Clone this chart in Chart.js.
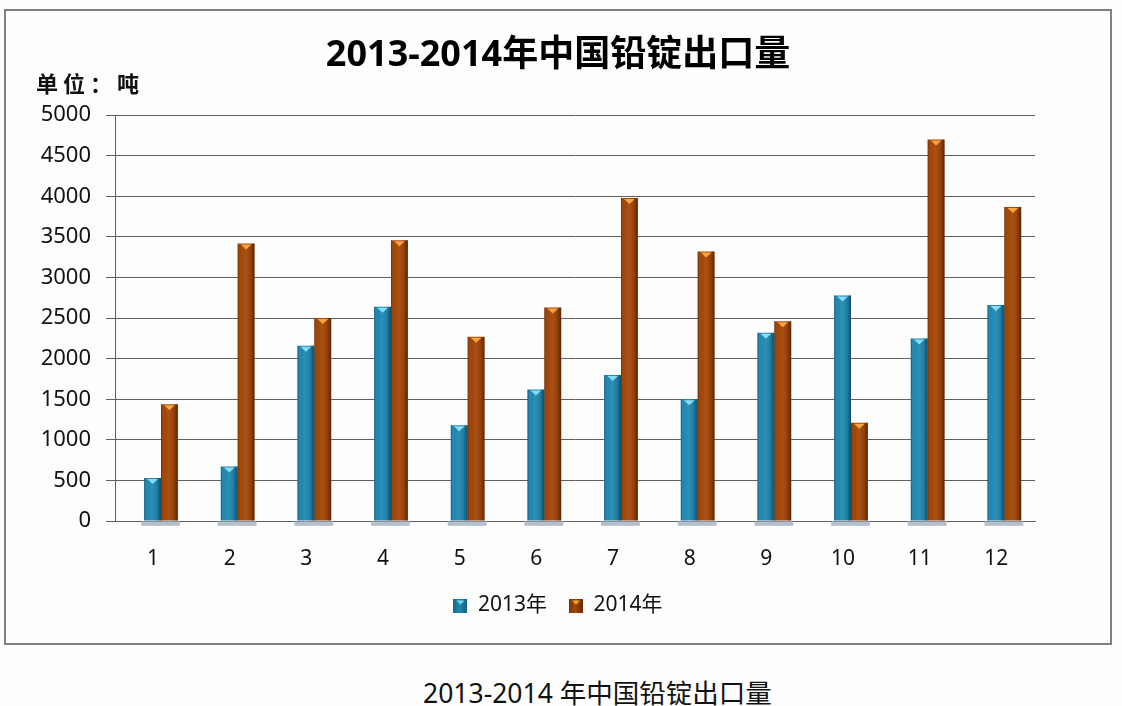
<!DOCTYPE html>
<html><head><meta charset="utf-8">
<script src="https://cdn.jsdelivr.net/npm/chart.js@4/dist/chart.umd.min.js"></script>
<style>
html,body{margin:0;padding:0;background:#fdfdfd;}
body{width:1122px;height:706px;position:relative;overflow:hidden;font-family:"Noto Sans","Noto Sans CJK SC",sans-serif;}
#box{position:absolute;left:4px;top:9px;width:1108px;height:636px;border:2px solid #7f7f7f;box-sizing:border-box;}
#wrap{position:absolute;left:0;top:0;width:1104px;height:632px;}
#unit{position:absolute;left:30px;top:60px;line-height:22px;font-size:22px;font-weight:bold;color:#111;letter-spacing:5px;font-family:"Noto Sans CJK SC",sans-serif;}
#caption{position:absolute;left:423px;top:680px;line-height:26px;font-size:26.5px;color:#111;white-space:nowrap;font-family:"Noto Sans","Noto Sans CJK SC",sans-serif;}
</style></head>
<body>
<div id="box"><div id="wrap"><canvas id="c"></canvas></div><div id="unit">单位：吨</div></div>
<div id="caption">2013-2014 年中国铅锭出口量</div>
<script>
const chartTitle = '2013-2014年中国铅锭出口量';
const months = ['1','2','3','4','5','6','7','8','9','10','11','12'];
const monthNums = [1,2,3,4,5,6,7,8,9,10,11,12];
const seriesNames = ['2013年','2014年'];
const exports2013 = [530, 670, 2160, 2640, 1180, 1620, 1800, 1500, 2320, 2780, 2250, 2660];
const exports2014 = [1440, 3420, 2500, 3460, 2270, 2630, 3980, 3320, 2460, 1210, 4700, 3870];
const yTicks = [0,500,1000,1500,2000,2500,3000,3500,4000,4500,5000];

const barColors = ['#2189b2','#a34709'];
const capColors = ['#86dcf9','#f9a53e'];

function makeIcon(i){
  const c=document.createElement('canvas'); c.width=14; c.height=14;
  const x=c.getContext('2d');
  const g=x.createLinearGradient(0,0,14,0);
  g.addColorStop(0, i? '#7a3306':'#17698a');
  g.addColorStop(0.4, barColors[i]);
  g.addColorStop(1, i? '#6a2b04':'#145e7b');
  x.fillStyle=g; x.fillRect(0,0,14,14);
  x.fillStyle=capColors[i];
  x.beginPath(); x.moveTo(3,2); x.lineTo(11,2); x.lineTo(7,6); x.closePath(); x.fill();
  return c;
}
const legendIcons=[makeIcon(0),makeIcon(1)];

const barStyle = {
  id:'barStyle',
  afterDatasetsDraw(chart){
    const ctx=chart.ctx;
    const m0=chart.getDatasetMeta(0), m1=chart.getDatasetMeta(1);
    ctx.save();
    m0.data.forEach((b0,i)=>{
      const b1=m1.data[i];
      const l=b0.x-b0.width/2-3, r=b1.x+b1.width/2+2;
      ctx.fillStyle='#b3c1d0'; ctx.fillRect(l,b0.base+1,r-l,3);
      ctx.fillStyle='#8c9aab'; ctx.fillRect(l,b0.base+4,r-l,1);
    });
    chart.data.datasets.forEach((ds,di)=>{
      chart.getDatasetMeta(di).data.forEach(bar=>{
        const w=bar.width, x0=bar.x-w/2, top=bar.y, h=bar.base-bar.y;
        const g=ctx.createLinearGradient(x0,0,x0+w,0);
        g.addColorStop(0,'rgba(0,0,0,0.35)');
        g.addColorStop(0.1,'rgba(0,0,0,0)');
        g.addColorStop(0.45,'rgba(255,255,255,0.06)');
        g.addColorStop(0.75,'rgba(0,0,0,0.08)');
        g.addColorStop(1,'rgba(0,0,0,0.45)');
        ctx.fillStyle=g; ctx.fillRect(x0,top,w,h);
        ctx.fillStyle=capColors[di];
        ctx.beginPath();
        ctx.moveTo(bar.x-w*0.32,top+1);
        ctx.lineTo(bar.x+w*0.32,top+1);
        ctx.lineTo(bar.x,top+6);
        ctx.closePath(); ctx.fill();
      });
    });
    ctx.restore();
  }
};

Chart.defaults.font.family='"Noto Sans","Noto Sans CJK SC",sans-serif';
Chart.defaults.color='#111';

new Chart(document.getElementById('c'),{
  type:'bar',
  data:{
    datasets:[
      {label:seriesNames[0],data:monthNums.map((m,i)=>({x:m,y:exports2013[i]})),backgroundColor:barColors[0]},
      {label:seriesNames[1],data:monthNums.map((m,i)=>({x:m,y:exports2014[i]})),backgroundColor:barColors[1]}
    ]
  },
  options:{
    responsive:true, maintainAspectRatio:false, animation:false,
    categoryPercentage:0.44, barPercentage:1.0,
    layout:{padding:{left:0,right:0,top:0,bottom:17}},
    scales:{
      x:{
        type:'linear', min:0.4, max:12.4, offset:false,
        afterBuildTicks:(s)=>{ s.ticks = monthNums.map(v=>({value:v})); },
        afterFit:(s)=>{ s.height=52; },
        ticks:{callback:(v)=>months[v-1], font:{size:21}, padding:17, labelOffset:-8, autoSkip:false, maxRotation:0},
        grid:{display:false, offset:false},
        border:{display:true, color:'#5f5f5f', width:1}
      },
      y:{
        min:0, max:5000,
        afterBuildTicks:(s)=>{ s.ticks = yTicks.map(v=>({value:v})); },
        afterFit:(s)=>{ s.width=109; },
        ticks:{font:{size:22}, padding:15, callback:(v)=>String(v)},
        grid:{color:'#5f5f5f', lineWidth:1, tickLength:9, drawTicks:true},
        border:{display:true, color:'#5f5f5f', width:1}
      },
      yR:{
        position:'right', display:true,
        afterFit:(s)=>{ s.width=75; },
        ticks:{display:false}, grid:{display:false}, border:{display:false}
      }
    },
    plugins:{
      title:{display:true, text:chartTitle, color:'#000',
        font:{size:36, weight:'bold', family:'"Noto Sans","Noto Sans CJK SC",sans-serif'},
        padding:{top:23,bottom:38}},
      legend:{position:'bottom',
        labels:{usePointStyle:true, boxWidth:14, boxHeight:14, padding:22, font:{size:21},
          generateLabels(chart){
            const items=Chart.defaults.plugins.legend.labels.generateLabels(chart);
            items.forEach((it,i)=>{ it.pointStyle=legendIcons[i]; });
            return items;
          }}},
      tooltip:{enabled:false}
    }
  },
  plugins:[barStyle]
});
</script>
</body></html>
